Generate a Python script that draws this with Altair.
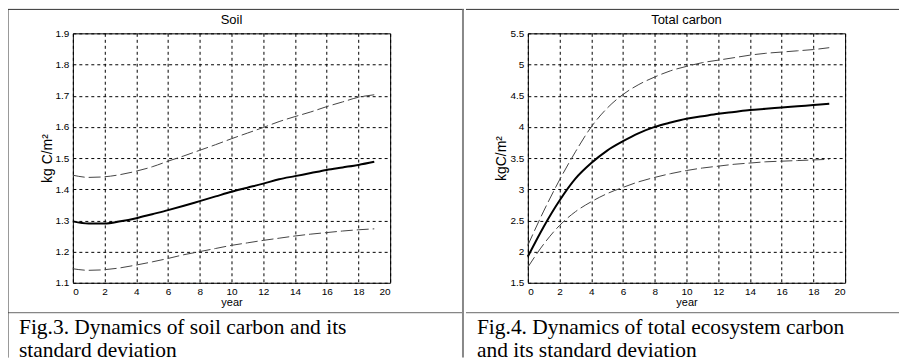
import altair as alt
import pandas as pd

years = list(range(20))

soil_mean = [1.297, 1.290, 1.290, 1.297, 1.307, 1.320, 1.333, 1.347, 1.362, 1.377,
             1.392, 1.405, 1.418, 1.432, 1.442, 1.452, 1.462, 1.470, 1.478, 1.488]
soil_upper = [1.445, 1.438, 1.440, 1.447, 1.458, 1.472, 1.490, 1.507, 1.525, 1.543,
              1.562, 1.580, 1.598, 1.617, 1.633, 1.648, 1.665, 1.680, 1.695, 1.703]
soil_lower = [1.145, 1.140, 1.142, 1.148, 1.157, 1.167, 1.178, 1.190, 1.200, 1.210,
              1.220, 1.228, 1.236, 1.243, 1.250, 1.256, 1.261, 1.266, 1.270, 1.273]

total_mean = [1.92, 2.40, 2.82, 3.17, 3.42, 3.62, 3.77, 3.90, 4.00, 4.07,
              4.13, 4.17, 4.21, 4.24, 4.27, 4.29, 4.31, 4.33, 4.35, 4.37]
total_upper = [2.10, 2.65, 3.15, 3.60, 4.00, 4.30, 4.52, 4.68, 4.80, 4.90,
               4.97, 5.03, 5.07, 5.11, 5.15, 5.18, 5.20, 5.22, 5.24, 5.27]
total_lower = [1.75, 2.12, 2.42, 2.64, 2.80, 2.93, 3.03, 3.12, 3.19, 3.25,
               3.30, 3.34, 3.37, 3.40, 3.42, 3.44, 3.45, 3.46, 3.47, 3.48]

x_ticks = list(range(0, 21, 2))
soil_ticks = [1.1, 1.2, 1.3, 1.4, 1.5, 1.6, 1.7, 1.8, 1.9]
total_ticks = [1.5, 2.0, 2.5, 3.0, 3.5, 4.0, 4.5, 5.0, 5.5]

titles = ["Soil", "Total carbon"]
captions = [
    ["Fig.3. Dynamics of soil carbon and its", "standard deviation"],
    ["Fig.4. Dynamics of total ecosystem carbon", "and its standard deviation"],
]

W, H = 318, 250
LINE = "#333333"
SERIF = "Liberation Serif"
SANS = "Liberation Sans"


def make_df(mean, upper, lower):
    rows = []
    for name, vals in (("mean", mean), ("upper", upper), ("lower", lower)):
        for yr, v in zip(years, vals):
            rows.append({"year": yr, "value": v, "series": name})
    return pd.DataFrame(rows)


one = pd.DataFrame({"k": [0]})


def hrule(x1, x2, y, color=LINE, width=1):
    return alt.Chart(one).mark_rule(color=color, strokeWidth=width).encode(
        x=alt.value(x1), x2=alt.value(x2), y=alt.value(y))


def vrule(x, y1, y2, color=LINE, width=1):
    return alt.Chart(one).mark_rule(color=color, strokeWidth=width).encode(
        x=alt.value(x), y=alt.value(y1), y2=alt.value(y2))


def panel(title, ytitle, df, ydomain, yticks, yfmt, caption, left, right, first):
    base = alt.Chart(df)
    x = alt.X("year:Q", scale=alt.Scale(domain=[0, 20], nice=False),
              axis=alt.Axis(values=x_ticks, format="d", title="year"))
    y = alt.Y("value:Q", scale=alt.Scale(domain=ydomain, nice=False, zero=False),
              axis=alt.Axis(values=yticks, format=yfmt, title=ytitle))
    sd = base.transform_filter(alt.datum.series != "mean").mark_line(
        color="#444444", strokeWidth=1, strokeDash=[12, 4], interpolate="monotone"
    ).encode(x=x, y=y, detail="series:N")
    mean = base.transform_filter(alt.datum.series == "mean").mark_line(
        color="black", strokeWidth=2, interpolate="monotone"
    ).encode(x=x, y=y)
    ttl = alt.Chart(one).mark_text(
        font=SANS, fontSize=13, align="center", baseline="middle", color="black"
    ).encode(x=alt.value(W / 2), y=alt.value(-13), text=alt.value(title))
    cap = alt.Chart(one).mark_text(
        font=SERIF, fontSize=21.5, align="left", baseline="alphabetic",
        lineHeight=23, color="black"
    ).encode(x=alt.value(left + 11), y=alt.value(301), text=alt.value(caption))
    deco = [
        hrule(left, right, -24),
        hrule(left, right, 280, color="#666666"),
    ]
    if first:
        deco.append(vrule(left, -24, 325))
        deco.append(vrule(right - 1, -24, 325, color="#888888", width=2))
    return alt.layer(sd, mean, ttl, cap, *deco).properties(width=W, height=H)


p1 = panel(titles[0], "kg C/m²", make_df(soil_mean, soil_upper, soil_lower),
           [1.1, 1.9], soil_ticks, ".1f", captions[0], -65, 392, True)
p2 = panel(titles[1], "kgC/m²", make_df(total_mean, total_upper, total_lower),
           [1.5, 5.5], total_ticks, "~g", captions[1], -62, 372, False)

chart = alt.hconcat(p1, p2, spacing=0).properties(
    padding={"left": -1, "top": -1, "right": 0, "bottom": 0}, background="white"
).configure_view(
    stroke="black", strokeWidth=1
).configure_axis(
    grid=True, gridColor="black", gridDash=[3, 3], gridWidth=1, gridOpacity=1,
    domain=False, ticks=False,
    labelFont=SANS, labelFontSize=10, labelColor="black", labelPadding=4,
    titleFont=SANS, titleFontWeight="normal", titleColor="black",
).configure_axisX(
    titleFontSize=11, titlePadding=0
).configure_axisY(
    titleFontSize=14, titlePadding=1
)

chart.save("out.html", embed_options={"renderer": "svg", "actions": False})
